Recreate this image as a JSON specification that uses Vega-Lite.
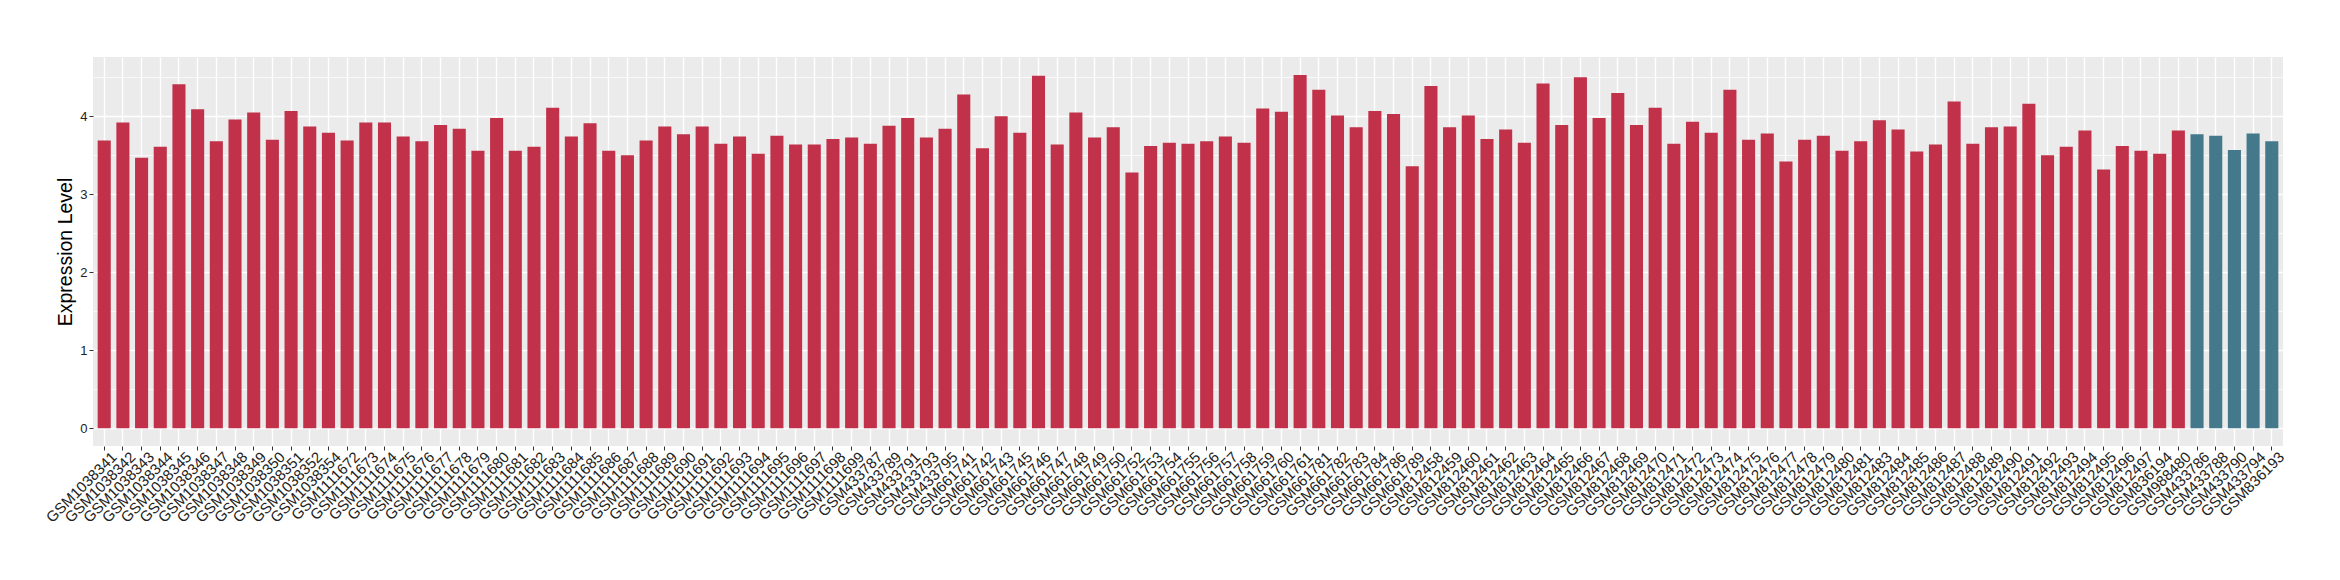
{
  "$schema": "https://vega.github.io/schema/vega-lite/v6.json",
  "width": 2190,
  "height": 389,
  "autosize": {"type": "none"},
  "padding": {"left": 93, "top": 57, "right": 57, "bottom": 134},
  "background": "white",
  "config": {"view": {"fill": "#EBEBEB", "stroke": null}, "font": "Liberation Sans"},
  "data": {"values": [
    {"sample": "GSM1038341", "expression": 3.69, "group": "case"},
    {"sample": "GSM1038342", "expression": 3.92, "group": "case"},
    {"sample": "GSM1038343", "expression": 3.47, "group": "case"},
    {"sample": "GSM1038344", "expression": 3.61, "group": "case"},
    {"sample": "GSM1038345", "expression": 4.41, "group": "case"},
    {"sample": "GSM1038346", "expression": 4.09, "group": "case"},
    {"sample": "GSM1038347", "expression": 3.68, "group": "case"},
    {"sample": "GSM1038348", "expression": 3.96, "group": "case"},
    {"sample": "GSM1038349", "expression": 4.05, "group": "case"},
    {"sample": "GSM1038350", "expression": 3.70, "group": "case"},
    {"sample": "GSM1038351", "expression": 4.07, "group": "case"},
    {"sample": "GSM1038352", "expression": 3.87, "group": "case"},
    {"sample": "GSM1038354", "expression": 3.79, "group": "case"},
    {"sample": "GSM1111672", "expression": 3.69, "group": "case"},
    {"sample": "GSM1111673", "expression": 3.92, "group": "case"},
    {"sample": "GSM1111674", "expression": 3.92, "group": "case"},
    {"sample": "GSM1111675", "expression": 3.74, "group": "case"},
    {"sample": "GSM1111676", "expression": 3.68, "group": "case"},
    {"sample": "GSM1111677", "expression": 3.89, "group": "case"},
    {"sample": "GSM1111678", "expression": 3.84, "group": "case"},
    {"sample": "GSM1111679", "expression": 3.56, "group": "case"},
    {"sample": "GSM1111680", "expression": 3.98, "group": "case"},
    {"sample": "GSM1111681", "expression": 3.56, "group": "case"},
    {"sample": "GSM1111682", "expression": 3.61, "group": "case"},
    {"sample": "GSM1111683", "expression": 4.11, "group": "case"},
    {"sample": "GSM1111684", "expression": 3.74, "group": "case"},
    {"sample": "GSM1111685", "expression": 3.91, "group": "case"},
    {"sample": "GSM1111686", "expression": 3.56, "group": "case"},
    {"sample": "GSM1111687", "expression": 3.50, "group": "case"},
    {"sample": "GSM1111688", "expression": 3.69, "group": "case"},
    {"sample": "GSM1111689", "expression": 3.87, "group": "case"},
    {"sample": "GSM1111690", "expression": 3.77, "group": "case"},
    {"sample": "GSM1111691", "expression": 3.87, "group": "case"},
    {"sample": "GSM1111692", "expression": 3.65, "group": "case"},
    {"sample": "GSM1111693", "expression": 3.74, "group": "case"},
    {"sample": "GSM1111694", "expression": 3.52, "group": "case"},
    {"sample": "GSM1111695", "expression": 3.75, "group": "case"},
    {"sample": "GSM1111696", "expression": 3.64, "group": "case"},
    {"sample": "GSM1111697", "expression": 3.64, "group": "case"},
    {"sample": "GSM1111698", "expression": 3.71, "group": "case"},
    {"sample": "GSM1111699", "expression": 3.73, "group": "case"},
    {"sample": "GSM433787", "expression": 3.65, "group": "case"},
    {"sample": "GSM433789", "expression": 3.88, "group": "case"},
    {"sample": "GSM433791", "expression": 3.98, "group": "case"},
    {"sample": "GSM433793", "expression": 3.73, "group": "case"},
    {"sample": "GSM433795", "expression": 3.84, "group": "case"},
    {"sample": "GSM661741", "expression": 4.28, "group": "case"},
    {"sample": "GSM661742", "expression": 3.59, "group": "case"},
    {"sample": "GSM661743", "expression": 4.00, "group": "case"},
    {"sample": "GSM661745", "expression": 3.79, "group": "case"},
    {"sample": "GSM661746", "expression": 4.52, "group": "case"},
    {"sample": "GSM661747", "expression": 3.64, "group": "case"},
    {"sample": "GSM661748", "expression": 4.05, "group": "case"},
    {"sample": "GSM661749", "expression": 3.73, "group": "case"},
    {"sample": "GSM661750", "expression": 3.86, "group": "case"},
    {"sample": "GSM661752", "expression": 3.28, "group": "case"},
    {"sample": "GSM661753", "expression": 3.62, "group": "case"},
    {"sample": "GSM661754", "expression": 3.66, "group": "case"},
    {"sample": "GSM661755", "expression": 3.65, "group": "case"},
    {"sample": "GSM661756", "expression": 3.68, "group": "case"},
    {"sample": "GSM661757", "expression": 3.74, "group": "case"},
    {"sample": "GSM661758", "expression": 3.66, "group": "case"},
    {"sample": "GSM661759", "expression": 4.10, "group": "case"},
    {"sample": "GSM661760", "expression": 4.06, "group": "case"},
    {"sample": "GSM661761", "expression": 4.53, "group": "case"},
    {"sample": "GSM661781", "expression": 4.34, "group": "case"},
    {"sample": "GSM661782", "expression": 4.01, "group": "case"},
    {"sample": "GSM661783", "expression": 3.86, "group": "case"},
    {"sample": "GSM661784", "expression": 4.07, "group": "case"},
    {"sample": "GSM661786", "expression": 4.03, "group": "case"},
    {"sample": "GSM661789", "expression": 3.36, "group": "case"},
    {"sample": "GSM812458", "expression": 4.39, "group": "case"},
    {"sample": "GSM812459", "expression": 3.86, "group": "case"},
    {"sample": "GSM812460", "expression": 4.01, "group": "case"},
    {"sample": "GSM812461", "expression": 3.71, "group": "case"},
    {"sample": "GSM812462", "expression": 3.83, "group": "case"},
    {"sample": "GSM812463", "expression": 3.66, "group": "case"},
    {"sample": "GSM812464", "expression": 4.42, "group": "case"},
    {"sample": "GSM812465", "expression": 3.89, "group": "case"},
    {"sample": "GSM812466", "expression": 4.50, "group": "case"},
    {"sample": "GSM812467", "expression": 3.98, "group": "case"},
    {"sample": "GSM812468", "expression": 4.30, "group": "case"},
    {"sample": "GSM812469", "expression": 3.89, "group": "case"},
    {"sample": "GSM812470", "expression": 4.11, "group": "case"},
    {"sample": "GSM812471", "expression": 3.65, "group": "case"},
    {"sample": "GSM812472", "expression": 3.93, "group": "case"},
    {"sample": "GSM812473", "expression": 3.79, "group": "case"},
    {"sample": "GSM812474", "expression": 4.34, "group": "case"},
    {"sample": "GSM812475", "expression": 3.70, "group": "case"},
    {"sample": "GSM812476", "expression": 3.78, "group": "case"},
    {"sample": "GSM812477", "expression": 3.42, "group": "case"},
    {"sample": "GSM812478", "expression": 3.70, "group": "case"},
    {"sample": "GSM812479", "expression": 3.75, "group": "case"},
    {"sample": "GSM812480", "expression": 3.56, "group": "case"},
    {"sample": "GSM812481", "expression": 3.68, "group": "case"},
    {"sample": "GSM812483", "expression": 3.95, "group": "case"},
    {"sample": "GSM812484", "expression": 3.83, "group": "case"},
    {"sample": "GSM812485", "expression": 3.55, "group": "case"},
    {"sample": "GSM812486", "expression": 3.64, "group": "case"},
    {"sample": "GSM812487", "expression": 4.19, "group": "case"},
    {"sample": "GSM812488", "expression": 3.65, "group": "case"},
    {"sample": "GSM812489", "expression": 3.86, "group": "case"},
    {"sample": "GSM812490", "expression": 3.87, "group": "case"},
    {"sample": "GSM812491", "expression": 4.16, "group": "case"},
    {"sample": "GSM812492", "expression": 3.50, "group": "case"},
    {"sample": "GSM812493", "expression": 3.61, "group": "case"},
    {"sample": "GSM812494", "expression": 3.82, "group": "case"},
    {"sample": "GSM812495", "expression": 3.32, "group": "case"},
    {"sample": "GSM812496", "expression": 3.62, "group": "case"},
    {"sample": "GSM812497", "expression": 3.56, "group": "case"},
    {"sample": "GSM836194", "expression": 3.52, "group": "case"},
    {"sample": "GSM988480", "expression": 3.82, "group": "case"},
    {"sample": "GSM433786", "expression": 3.77, "group": "control"},
    {"sample": "GSM433788", "expression": 3.75, "group": "control"},
    {"sample": "GSM433790", "expression": 3.57, "group": "control"},
    {"sample": "GSM433794", "expression": 3.78, "group": "control"},
    {"sample": "GSM836193", "expression": 3.68, "group": "control"}
  ]},
  "mark": {"type": "bar"},
  "encoding": {
    "x": {
      "field": "sample", "type": "nominal", "sort": null,
      "scale": {"paddingInner": 0.3, "paddingOuter": 0.25},
      "axis": {
        "title": null, "labelAngle": -45, "labelAlign": "right", "labelBaseline": "top",
        "labelFontSize": 15, "labelColor": "#222222", "labelOverlap": false, "labelPadding": -1,
        "labelOffset": 5, "labelBound": false, "labelFlush": false,
        "tickSize": 4, "tickColor": "#333333", "domain": false,
        "grid": true, "gridColor": "white", "gridWidth": 1.4, "bandPosition": 0.5
      }
    },
    "y": {
      "field": "expression", "type": "quantitative",
      "scale": {"domain": [-0.227, 4.761], "nice": false, "zero": false},
      "axis": {
        "title": "Expression Level",
        "values": [0, 0.5, 1, 1.5, 2, 2.5, 3, 3.5, 4, 4.5],
        "labelExpr": "datum.value % 1 === 0 ? format(datum.value, 'd') : ''",
        "grid": true, "gridColor": "white",
        "gridWidth": {"condition": {"test": "datum.value % 1 === 0", "value": 1.4}, "value": 0.7},
        "tickOpacity": {"condition": {"test": "datum.value % 1 === 0", "value": 1}, "value": 0},
        "tickColor": "#333333", "tickSize": 4, "domain": false,
        "labelFontSize": 13, "labelColor": "#222222", "labelPadding": 2,
        "titleFontSize": 19.5, "titleColor": "black", "titleFontWeight": "normal",
        "titleX": -28, "titleY": 194.5, "titleAngle": 270, "titleAlign": "center", "titleBaseline": "middle"
      }
    },
    "color": {
      "field": "group", "type": "nominal",
      "scale": {"domain": ["case", "control"], "range": ["#C1314A", "#43798A"]},
      "legend": null
    }
  }
}
